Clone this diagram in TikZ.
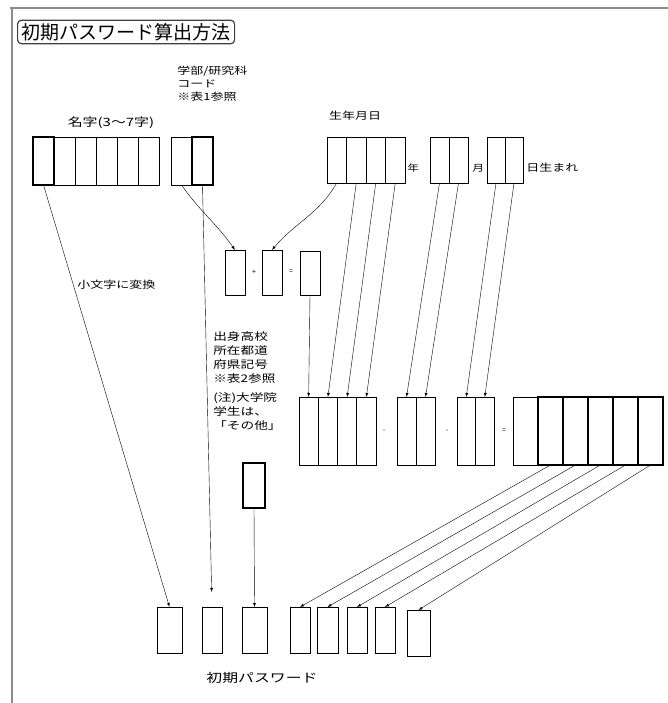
\documentclass[tikz,border=0pt]{standalone}
\usepackage{fontspec}
\setmainfont{Noto Sans CJK JP}
\newfontfamily\widefont[FakeStretch=1.3]{Noto Sans CJK JP}
\usetikzlibrary{positioning,arrows}
\tikzstyle{cell}=[draw,inner sep=0pt,outer sep=0pt,minimum width=21pt,minimum height=48pt]
\tikzstyle{boldcell}=[cell,line width=1.4pt]
\tikzstyle{pwcell}=[cell,line width=1pt,minimum height=46pt]
\tikzstyle{txt}=[inner sep=0pt,font=\widefont\fontsize{10}{13}\selectfont]
\tikzstyle{link}=[->,thin]
\newcommand{\newBox}[3]{\node[#2](#1)[#3]{};}
\newcommand{\newLink}[3]{\draw[link,#3] (#1) -- (#2);}

\begin{document}
\begin{tikzpicture}[x=1pt,y=-1pt,node distance=0pt,>=latex,semithick]
  \useasboundingbox (0,0) rectangle (668,703);
  % frame and title
  \draw[black!45,line width=2pt] (10,8) -- (668,8);
  \draw[black!45,line width=2pt] (12,8) -- (12,703);
  \node[draw=black!75,line width=1.2pt,rounded corners=4pt,inner xsep=4pt,inner ysep=3pt,
    anchor=west,font=\fontsize{19}{21}\selectfont](title) at (17,32) {初期パスワード算出方法};

  % name
  \node[txt,font=\widefont\fontsize{11.5}{13}\selectfont](nmnote) at (111,123) {名字(3～7字)};
  \newBox{nm1}{boldcell}{anchor=north west,at={(33,137)}}
  \newBox{nm2}{cell}{right=of nm1}
  \newBox{nm3}{cell}{right=of nm2}
  \newBox{nm4}{cell}{right=of nm3}
  \newBox{nm5}{cell}{right=of nm4}
  \newBox{nm6}{cell}{right=of nm5}

  % faculty code
  \node[txt,anchor=north west,align=left,font=\widefont\fontsize{10}{13}\selectfont](fcnote) at (177,66)
    {学部/研究科\\コード\\※表1参照};
  \newBox{fc1}{cell}{anchor=north west,at={(171,137)}}
  \newBox{fc2}{boldcell}{right=of fc1}

  % birthday
  \node[txt](bdnote) at (355,116) {生年月日};
  \tikzset{cell/.append style={minimum height=46pt}}
  \newBox{yr1}{cell,minimum width=19.5pt}{anchor=north west,at={(327,137)}}
  \newBox{yr2}{cell,minimum width=19.5pt}{right=of yr1}
  \newBox{yr3}{cell,minimum width=19.5pt}{right=of yr2}
  \newBox{yr4}{cell,minimum width=19.5pt}{right=of yr3}
  \node[txt,anchor=west,font=\widefont\fontsize{9}{11}\selectfont](yrnote) at (407,168) {年};
  \newBox{mo1}{cell,minimum width=19pt}{anchor=north west,at={(430,137)}}
  \newBox{mo2}{cell,minimum width=19pt}{right=of mo1}
  \node[txt,anchor=west,font=\widefont\fontsize{9}{11}\selectfont](monote) at (472,168) {月};
  \newBox{dy1}{cell,minimum width=18pt}{anchor=north west,at={(487,137)}}
  \newBox{dy2}{cell,minimum width=18pt}{right=of dy1}
  \node[txt,anchor=west](dynote) at (526,168) {日生まれ};

  % sum
  \newBox{sa}{cell,minimum width=20pt,minimum height=45pt}{anchor=north west,at={(225,250)}}
  \newBox{sb}{cell,minimum width=20pt,minimum height=45pt}{anchor=north west,at={(262,250)}}
  \newBox{sc}{cell,minimum width=20pt,minimum height=44pt}{anchor=north west,at={(300,251)}}
  \node[txt,font=\fontsize{7}{8}\selectfont](plus) at (254,272) {+};
  \node[txt,font=\fontsize{7}{8}\selectfont](eq) at (291,272) {=};
  \node[txt,anchor=west](lcnote) at (77,285) {小文字に変換};

  % high school
  \node[txt,anchor=north west,align=left,font=\widefont\fontsize{10.5}{14}\selectfont](hsnote) at (213,331)
    {出身高校\\所在都道\\府県記号\\※表2参照\\[5pt](注)大学院\\学生は、\\「その他」};
  \newBox{hs}{boldcell,minimum width=22pt,minimum height=45pt}{anchor=north west,at={(243,463)}}

  % subtraction
  \tikzset{cell/.append style={minimum height=68pt}}
  \newBox{ly1}{cell,minimum width=19.25pt}{anchor=north west,at={(299,397)}}
  \newBox{ly2}{cell,minimum width=19.25pt}{right=of ly1}
  \newBox{ly3}{cell,minimum width=19.25pt}{right=of ly2}
  \newBox{ly4}{cell,minimum width=19.25pt}{right=of ly3}
  \node[txt,font=\fontsize{7}{8}\selectfont](minA) at (384,431) {-};
  \newBox{lm1}{cell,minimum width=19pt}{anchor=north west,at={(397,397)}}
  \newBox{lm2}{cell,minimum width=19pt}{right=of lm1}
  \node[txt,font=\fontsize{7}{8}\selectfont](minB) at (447,431) {-};
  \newBox{ld1}{cell,minimum width=18.5pt}{anchor=north west,at={(457,397)}}
  \newBox{ld2}{cell,minimum width=18.5pt}{right=of ld1}
  \node[txt,font=\fontsize{7}{8}\selectfont](eqB) at (504,431) {=};
  \newBox{rs1}{cell,minimum width=25pt}{anchor=north west,at={(513,397)}}
  \newBox{rs2}{boldcell,minimum width=25pt,minimum height=68pt}{right=of rs1}
  \newBox{rs3}{boldcell,minimum width=25pt,minimum height=68pt}{right=of rs2}
  \newBox{rs4}{boldcell,minimum width=25pt,minimum height=68pt}{right=of rs3}
  \newBox{rs5}{boldcell,minimum width=25pt,minimum height=68pt}{right=of rs4}
  \newBox{rs6}{boldcell,minimum width=25pt,minimum height=68pt}{right=of rs5}

  % password
  \newBox{pw1}{pwcell,minimum width=25pt}{anchor=north west,at={(157,607)}}
  \newBox{pw2}{pwcell,minimum width=20pt}{anchor=north west,at={(202,607)}}
  \newBox{pw3}{pwcell,minimum width=25pt}{anchor=north west,at={(242,607)}}
  \newBox{pw4}{pwcell,minimum width=20pt}{anchor=north west,at={(290,607)}}
  \newBox{pw5}{pwcell,minimum width=21pt}{anchor=north west,at={(317,607)}}
  \newBox{pw6}{pwcell,minimum width=20pt}{anchor=north west,at={(347,607)}}
  \newBox{pw7}{pwcell,minimum width=20pt}{anchor=north west,at={(375,607)}}
  \newBox{pw8}{pwcell,minimum width=23pt}{anchor=north west,at={(407,610)}}
  \node[txt,font=\widefont\fontsize{12.2}{16}\selectfont](pwnote) at (262,678) {初期パスワード};

  % connectors
  \newLink{nm1.south}{pw1.north}{}
  \newLink{fc2.south}{pw2.north}{shorten >=15pt}
  \draw[link] (fc1.south) to[out=-55,in=125] (sa.north);
  \draw[link] (yr1.south) to[out=-120,in=50] (sb.north);
  \newLink{sc.south}{ly1.north}{}
  \newLink{yr2.south}{ly2.north}{}
  \newLink{yr3.south}{ly3.north}{}
  \newLink{yr4.south}{ly4.north}{}
  \newLink{mo1.south}{lm1.north}{}
  \newLink{mo2.south}{lm2.north}{}
  \newLink{dy1.south}{ld1.north}{}
  \newLink{dy2.south}{ld2.north}{}
  \newLink{hs.south}{pw3.north}{}
  \newLink{rs2.south}{pw4.north}{}
  \newLink{rs3.south}{pw5.north}{}
  \newLink{rs4.south}{pw6.north}{}
  \newLink{rs5.south}{pw7.north}{}
  \newLink{rs6.south}{pw8.north}{}
\end{tikzpicture}
\end{document}
